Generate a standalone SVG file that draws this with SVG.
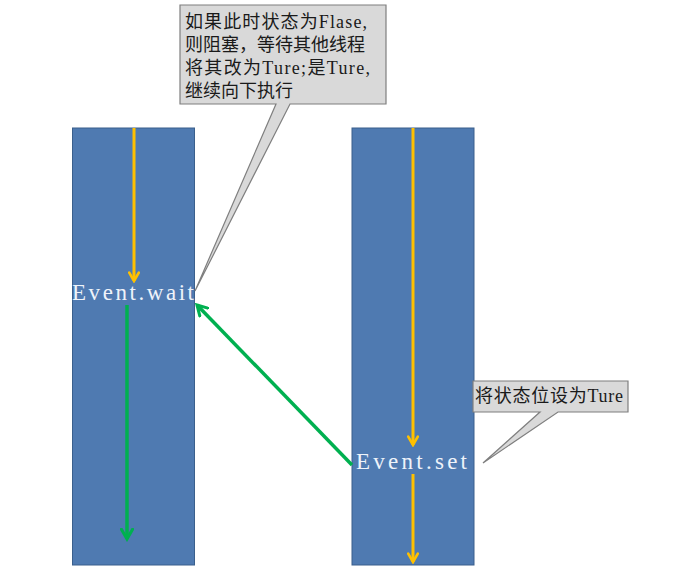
<svg xmlns="http://www.w3.org/2000/svg" width="700" height="579" viewBox="0 0 700 579">
<style>
.bar{fill:#4f7ab1;stroke:#3a5f8c;stroke-width:1}
.call{fill:#d9d9d9;stroke:#7f7f7f;stroke-width:1.2}
.ct{font-family:"Liberation Serif","Noto Sans CJK SC",serif;font-size:18px;fill:#1a1a1a}
.lbl{font-family:"Liberation Serif","Noto Sans CJK SC",serif;font-size:23px;fill:#eef3fa}
.y{stroke:#ffc000;stroke-width:3;fill:none}
.g{stroke:#00b050;stroke-width:3.5;fill:none}
</style>
<defs>
<marker id="ay" viewBox="0 0 10 10" refX="8" refY="5" markerWidth="4" markerHeight="4" markerUnits="strokeWidth" orient="auto">
<path d="M1,1 L8,5 L1,9" fill="none" stroke="#ffc000" stroke-width="2.2" stroke-linecap="round"/>
</marker>
<marker id="ag" viewBox="0 0 10 10" refX="8" refY="5" markerWidth="4" markerHeight="4" markerUnits="strokeWidth" orient="auto">
<path d="M1,1 L8,5 L1,9" fill="none" stroke="#00b050" stroke-width="2.2" stroke-linecap="round"/>
</marker>
</defs>
<rect width="700" height="579" fill="#ffffff"/>
<g id="thread-wait">
<rect class="bar" x="72.5" y="128" width="122" height="437"/>
<text class="lbl" x="72" y="300" textLength="122" lengthAdjust="spacing">Event.wait</text>
</g>
<g id="thread-set">
<rect class="bar" x="352" y="128" width="122" height="437"/>
<text class="lbl" x="356" y="469" textLength="111" lengthAdjust="spacing">Event.set</text>
</g>
<g id="connectors">
<line class="y" x1="134" y1="128" x2="134" y2="281" marker-end="url(#ay)"/>
<line class="g" x1="127" y1="305" x2="127" y2="539" marker-end="url(#ag)"/>
<line class="y" x1="413" y1="128" x2="413" y2="445" marker-end="url(#ay)"/>
<line class="y" x1="413" y1="474" x2="413" y2="562" marker-end="url(#ay)"/>
<line class="g" x1="352" y1="465" x2="197" y2="305" marker-end="url(#ag)"/>
</g>
<g id="callout-wait">
<path class="call" d="M180,5 H386 V104 H290 L195,291 L276,104 H180 Z"/>
<text class="ct" x="185" y="28" textLength="182" lengthAdjust="spacing">如果此时状态为Flase,</text>
<text class="ct" x="185" y="51">则阻塞，等待其他线程</text>
<text class="ct" x="185" y="74" textLength="185" lengthAdjust="spacing">将其改为Ture;是Ture,</text>
<text class="ct" x="185" y="97">继续向下执行</text>
</g>
<g id="callout-set">
<path class="call" d="M473,381 H628 V412 H558 L483,463 L540,412 H473 Z"/>
<text class="ct" x="475" y="402" textLength="148" lengthAdjust="spacing">将状态位设为Ture</text>
</g>
</svg>
